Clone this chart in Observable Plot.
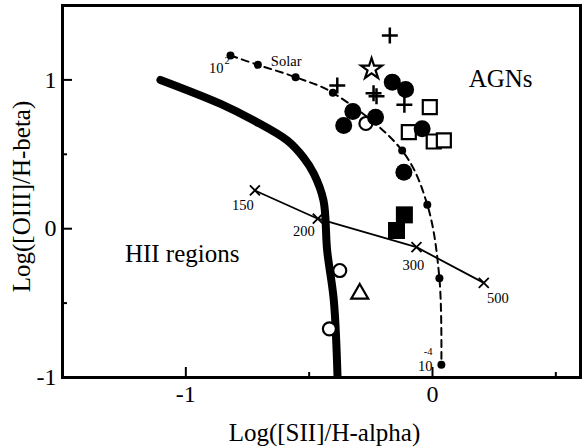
<!DOCTYPE html>
<html><head><meta charset="utf-8">
<script src="https://cdn.jsdelivr.net/npm/d3@7"></script>
<script src="https://cdn.jsdelivr.net/npm/@observablehq/plot@0.6"></script>
<style>html,body{margin:0;padding:0;background:#fff;}</style>
</head><body><div id="chart"></div>
<script>
// ---- axes ----
const xDomain = [-1.5, 0.6];
const yDomain = [-1, 1.5];
const xMajorTicks = [-1, 0];
const xMinorTicks = [-0.5, 0.5];
const yMajorTicks = [-1, 0, 1];
const yMinorTicks = [-0.5, 0.5];
const xLabel = "Log([SII]/H-alpha)";
const yLabel = "Log([OIII]/H-beta)";

// ---- thick demarcation curve ----
const demarcX = [-1.103, -0.859, -0.724, -0.589, -0.523, -0.481, -0.442, -0.427, -0.400, -0.385];
const demarcY = [1.0, 0.839, 0.727, 0.593, 0.478, 0.369, 0.19, -0.147, -0.483, -1.0];

// ---- dashed photoionization sequence ----
const modelX = [-0.819, -0.708, -0.555, -0.404, -0.123, -0.021, 0.028, 0.036];
const modelY = [1.164, 1.101, 1.018, 0.913, 0.525, 0.161, -0.333, -0.915];

// ---- shock sequence ----
const shockX = [-0.720, -0.465, -0.065, 0.208];
const shockY = [0.257, 0.067, -0.124, -0.364];
const shockLabels = ["150", "200", "300", "500"];

// ---- observed objects ----
const filledCircleX = [-0.163, -0.109, -0.323, -0.360, -0.231, -0.042, -0.116];
const filledCircleY = [0.985, 0.935, 0.788, 0.694, 0.749, 0.671, 0.380];
const openCircleX = [-0.270, -0.376, -0.418];
const openCircleY = [0.707, -0.281, -0.673];
const filledSquareX = [-0.114, -0.146];
const filledSquareY = [0.093, -0.012];
const openSquareX = [-0.011, -0.096, 0.005, 0.046];
const openSquareY = [0.817, 0.649, 0.586, 0.593];
const plusX = [-0.173, -0.386, -0.239, -0.227, -0.114];
const plusY = [1.298, 0.962, 0.910, 0.890, 0.833];
const starX = [-0.247];
const starY = [1.073];
const triangleX = [-0.295];
const triangleY = [-0.437];

// ---- region labels ----
const agnLabel = {x: 0.276, y: 0.95, label: "AGNs"};
const hiiLabel = {x: -1.247, y: -0.226, label: "HII regions"};

const pts = (xs, ys) => xs.map((x, i) => ({x, y: ys[i]}));
const demarc = pts(demarcX, demarcY);
const model = pts(modelX, modelY);
const shock = pts(shockX, shockY).map((d, i) => ({...d, label: shockLabels[i]}));

const serif = "Liberation Serif, Times New Roman, serif";
const small = 14.5;

const W = 582, H = 448, mL = 62, mR = 2, mT = 5, mB = 71;
const innerW = W - mL - mR, innerH = H - mT - mB;
const majorLen = 10, minorLen = 5;

function shockLabel(i, dx, dy) {
  return Plot.text([shock[i]], {x: "x", y: "y", text: "label", dx, dy, fontSize: small, fontFamily: serif, fill: "black", textAnchor: "middle", lineAnchor: "middle"});
}
const fmt = d => String(d).replace("\u2212", "-");

const chart = Plot.plot({
  width: W,
  height: H,
  marginLeft: mL,
  marginRight: mR,
  marginTop: mT,
  marginBottom: mB,
  style: {fontFamily: serif, background: "white", color: "black", overflow: "visible"},
  x: {domain: xDomain},
  y: {domain: yDomain},
  marks: [
    // inward ticks (bottom and left)
    Plot.ruleX(xMajorTicks, {x: d => d, insetTop: innerH - majorLen, stroke: "black", strokeWidth: 2}),
    Plot.ruleX(xMinorTicks, {x: d => d, insetTop: innerH - minorLen, stroke: "black", strokeWidth: 2}),
    Plot.ruleY(yMajorTicks, {y: d => d, insetRight: innerW - majorLen, stroke: "black", strokeWidth: 2}),
    Plot.ruleY(yMinorTicks, {y: d => d, insetRight: innerW - minorLen, stroke: "black", strokeWidth: 2}),
    // tick labels
    Plot.axisX({ticks: xMajorTicks, tickSize: 0, tickPadding: 7, fontSize: 24, fontFamily: serif, label: null, tickFormat: fmt}),
    Plot.axisY({ticks: yMajorTicks, tickSize: 0, tickPadding: 6, fontSize: 24, fontFamily: serif, label: null, tickFormat: fmt}),
    // axis titles
    Plot.text([xLabel], {frameAnchor: "bottom", textAnchor: "middle", dx: 3, dy: 63, lineAnchor: "bottom", fontSize: 25, fontFamily: serif, fill: "black"}),
    Plot.text([yLabel], {frameAnchor: "left", textAnchor: "middle", rotate: -90, dx: -41, dy: 5, lineAnchor: "middle", fontSize: 25, fontFamily: serif, fill: "black"}),

    // demarcation curve
    Plot.line(demarc, {x: "x", y: "y", stroke: "black", strokeWidth: 8, strokeLinecap: "round", curve: "catmull-rom", clip: true}),
    // dashed model sequence
    Plot.line(model, {x: "x", y: "y", stroke: "black", strokeWidth: 2, strokeDasharray: "7,5", curve: "catmull-rom"}),
    Plot.dot(model, {x: "x", y: "y", r: 4, fill: "black"}),
    Plot.text([model[0]], {x: "x", y: "y", text: () => "10", dx: -7, dy: 18, textAnchor: "end", lineAnchor: "bottom", fontSize: small, fontFamily: serif, fill: "black"}),
    Plot.text([model[0]], {x: "x", y: "y", text: () => "2", dx: -6, dy: 9, textAnchor: "start", lineAnchor: "bottom", fontSize: 10.5, fontFamily: serif, fill: "black"}),
    Plot.text([model[1]], {x: "x", y: "y", text: () => "Solar", dx: 13, dy: 1, textAnchor: "start", lineAnchor: "bottom", fontSize: small, fontFamily: serif, fill: "black"}),
    Plot.text([model[model.length - 1]], {x: "x", y: "y", text: () => "10", dx: -9, dy: 6, textAnchor: "end", lineAnchor: "bottom", fontSize: small, fontFamily: serif, fill: "black"}),
    Plot.text([model[model.length - 1]], {x: "x", y: "y", text: () => "-4", dx: -9, dy: -10, textAnchor: "end", lineAnchor: "bottom", fontSize: 10.5, fontFamily: serif, fill: "black"}),

    // shock sequence
    Plot.line(shock, {x: "x", y: "y", stroke: "black", strokeWidth: 1.8}),
    Plot.dot(shock, {x: "x", y: "y", symbol: "times", r: 4.6, stroke: "black", strokeWidth: 1.8}),
    shockLabel(0, -12, 15),
    shockLabel(1, -14, 13),
    shockLabel(2, -3, 18),
    shockLabel(3, 14, 15),

    // region labels
    Plot.text([agnLabel], {x: "x", y: "y", text: "label", textAnchor: "middle", lineAnchor: "bottom", fontSize: 25, fontFamily: serif, fill: "black"}),
    Plot.text([hiiLabel], {x: "x", y: "y", text: "label", textAnchor: "start", lineAnchor: "bottom", fontSize: 25, fontFamily: serif, fill: "black"}),

    // objects
    Plot.dot(pts(openSquareX, openSquareY), {x: "x", y: "y", symbol: "square", r: 7.9, fill: "white", stroke: "black", strokeWidth: 2.2}),
    Plot.dot(pts(filledSquareX, filledSquareY), {x: "x", y: "y", symbol: "square", r: 9.6, fill: "black"}),
    Plot.dot(pts(openCircleX, openCircleY), {x: "x", y: "y", r: 6.5, fill: "white", stroke: "black", strokeWidth: 2.2}),
    Plot.dot(pts(filledCircleX, filledCircleY), {x: "x", y: "y", r: 8.5, fill: "black"}),
    Plot.dot(pts(triangleX, triangleY), {x: "x", y: "y", symbol: "triangle", r: 6.3, fill: "white", stroke: "black", strokeWidth: 2.2}),
    Plot.dot(pts(starX, starY), {x: "x", y: "y", symbol: "star", r: 6.6, fill: "white", stroke: "black", strokeWidth: 2.2}),
    Plot.dot(pts(plusX, plusY), {x: "x", y: "y", symbol: "plus", r: 5.2, stroke: "black", strokeWidth: 2.5}),

    Plot.frame({stroke: "black", strokeWidth: 3})
  ]
});
document.getElementById("chart").appendChild(chart);
</script>
</body></html>
